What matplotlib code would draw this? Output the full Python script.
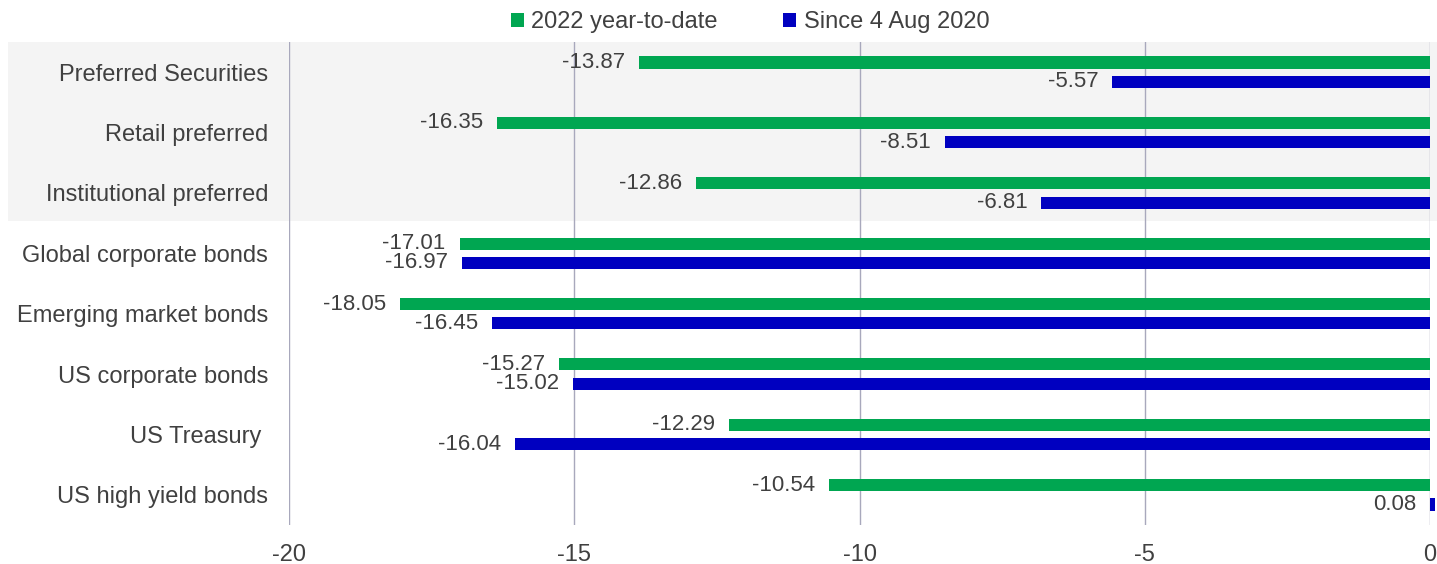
import matplotlib
matplotlib.use("Agg")
import matplotlib.pyplot as plt
from matplotlib.patches import Rectangle
import numpy as np

categories = ["Preferred Securities", "Retail preferred", "Institutional preferred",
              "Global corporate bonds", "Emerging market bonds", "US corporate bonds",
              "US Treasury ", "US high yield bonds"]
ytd_2022 = [-13.87, -16.35, -12.86, -17.01, -18.05, -15.27, -12.29, -10.54]
since_aug2020 = [-5.57, -8.51, -6.81, -16.97, -16.45, -15.02, -16.04, 0.08]
series_names = ["2022 year-to-date", "Since 4 Aug 2020"]
xticks = [-20, -15, -10, -5, 0]

GREEN = "#00A651"
BLUE = "#0000C0"
TXT = "#404040"
GRID = "#A8A8BC"

plt.rcParams['font.family'] = ['Liberation Sans', 'DejaVu Sans']

W, H = 1437, 564
fig = plt.figure(figsize=(W / 100, H / 100), dpi=100)

# shaded background for first three categories (figure coords)
fig.patches.append(Rectangle((8 / W, 1 - 221 / H), (1437 - 8) / W, (221 - 42) / H,
                             transform=fig.transFigure, facecolor="#F4F4F4",
                             edgecolor="none", zorder=-5))

ax = fig.add_axes([289 / W, 1 - 525 / H, (1430 - 289) / W, (525 - 42) / H])
ax.set_facecolor("none")
ax.set_zorder(1)

y = np.arange(len(categories))
off = 0.16
h = 0.2
b1 = ax.barh(y - off, ytd_2022, height=h, color=GREEN, label=series_names[0], zorder=3)
b2 = ax.barh(y + off, since_aug2020, height=h, color=BLUE, label=series_names[1], zorder=3)
for r in list(b1) + list(b2):
    r.set_clip_on(False)

for bars, vals in ((b1, ytd_2022), (b2, since_aug2020)):
    for rect, v in zip(bars, vals):
        yc = rect.get_y() + rect.get_height() / 2
        ax.annotate(f"{v:.2f}", xy=(min(v, 0), yc), xytext=(-10, 0),
                    textcoords="offset points", ha="right", va="center",
                    fontsize=16, color=TXT, zorder=4)

ax.set_xlim(-20, 0)
ax.set_ylim(len(categories) - 0.5, -0.5)
ax.set_xticks(xticks)
ax.set_xticklabels([str(t) for t in xticks])
ax.set_yticks(y)
ax.set_yticklabels(categories)
ax.tick_params(axis="x", length=0, pad=14, labelsize=17, labelcolor=TXT)
ax.tick_params(axis="y", length=0, pad=15, labelsize=17, labelcolor=TXT)
for s in ax.spines.values():
    s.set_visible(False)
ax.grid(axis="x", color=GRID, linewidth=1, zorder=1)
ax.set_axisbelow(True)

fig.legend(handles=[b1, b2], labels=series_names, loc="center",
           bbox_to_anchor=(750 / W, 1 - 22 / H), ncol=2, frameon=False,
           fontsize=17, handlelength=0.55, handleheight=0.55, handletextpad=0.3,
           columnspacing=2.8, labelcolor=TXT)

fig.savefig("out.png", dpi=100)
